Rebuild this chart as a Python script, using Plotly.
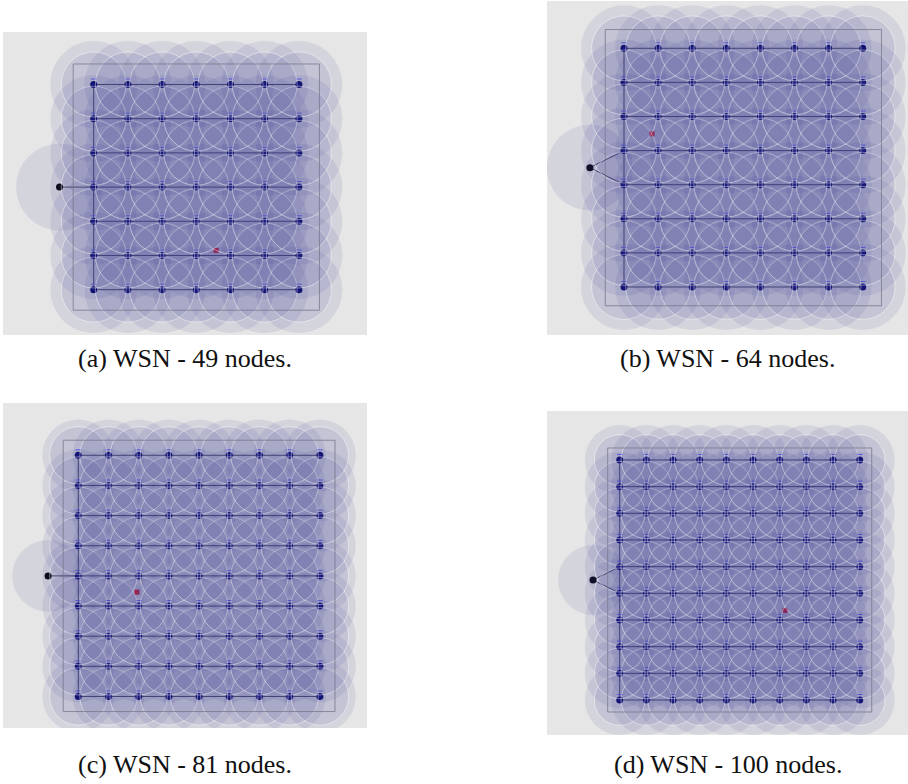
import plotly.graph_objects as go

W, H = 908, 784

# ---- data (grid units: node spacing = 1) ----
labels = ["(a) WSN - 49 nodes.", "(b) WSN - 64 nodes.", "(c) WSN - 81 nodes.", "(d) WSN - 100 nodes."]
side_counts = [7, 8, 9, 10]
sink_x = [-1.0, -1.0, -1.0, -1.0]
sink_y = [3.0, 3.5, 4.0, 4.5]
sink_links = [[3], [3, 4], [4], [4, 5]]          # rows on column 0 linked to sink
red_x = [3.58, 0.82, 1.94, 6.2]
red_y = [1.15, 4.49, 3.46, 3.36]
field_lo = [-0.6, -0.55, -0.5, -0.45]
field_hi = [6.6, 7.55, 8.5, 9.45]
range_big = [1.27, 1.26, 1.19, 1.31]             # radio range (outer disc)
range_small = [0.95, 0.95, 0.95, 0.95]           # inner disc
x_ranges = [(-2.652, 7.991), (-2.258, 8.328), (-2.493, 9.56), (-2.726, 10.81)]
y_ranges = [(-1.325, 7.535), (-1.408, 8.387), (-1.046, 9.735), (-1.312, 10.836)]

# ---- layout (pixel boxes of the panels) ----
boxes = [(3, 32, 367, 335), (547, 1, 908, 335), (3, 403, 367, 728), (547, 411, 908, 735)]
caption_y = [358, 358, 764, 764]

fig = go.Figure()
shapes = []
annotations = []
FILL = "rgba(60,60,150,0.10)"

for p in range(4):
    n = side_counts[p]
    ax = "" if p == 0 else str(p + 1)
    xr, yr = "x" + ax, "y" + ax
    L, T, R, B = boxes[p]
    fig.update_layout(**{
        ("xaxis" + ax): dict(domain=[L / W, R / W], range=list(x_ranges[p]), visible=False,
                              anchor=yr, fixedrange=True),
        ("yaxis" + ax): dict(domain=[1 - B / H, 1 - T / H], range=list(y_ranges[p]), visible=False,
                              anchor=xr, fixedrange=True),
    })
    # background
    shapes.append(dict(type="rect", xref=xr + " domain", yref=yr + " domain", x0=0, x1=1, y0=0, y1=1,
                       fillcolor="#e6e6e6", line=dict(width=0), layer="below"))
    nx = [i for j in range(n) for i in range(n)]
    ny = [j for j in range(n) for i in range(n)]
    # sink range
    Rb = range_big[p]
    shapes.append(dict(type="circle", xref=xr, yref=yr, x0=sink_x[p] - Rb, x1=sink_x[p] + Rb,
                       y0=sink_y[p] - Rb, y1=sink_y[p] + Rb, fillcolor=FILL, line=dict(width=0)))
    for cx, cy in zip(nx, ny):
        shapes.append(dict(type="circle", xref=xr, yref=yr, x0=cx - Rb, x1=cx + Rb,
                           y0=cy - Rb, y1=cy + Rb, fillcolor=FILL, line=dict(width=0)))
    Rs = range_small[p]
    for cx, cy in zip(nx, ny):
        shapes.append(dict(type="circle", xref=xr, yref=yr, x0=cx - Rs, x1=cx + Rs,
                           y0=cy - Rs, y1=cy + Rs, fillcolor=FILL,
                           line=dict(width=0.8, color="rgba(255,255,255,0.55)")))
    # field rectangle
    shapes.append(dict(type="rect", xref=xr, yref=yr, x0=field_lo[p], x1=field_hi[p],
                       y0=field_lo[p], y1=field_hi[p], line=dict(width=1, color="rgba(120,120,140,0.8)"),
                       fillcolor="rgba(0,0,0,0)"))
    # routing lines
    lx, ly = [], []
    for j in range(n):
        lx += [0, n - 1, None]
        ly += [j, j, None]
    lx += [0, 0, None]
    ly += [0, n - 1, None]
    for r in sink_links[p]:
        lx += [sink_x[p], 0, None]
        ly += [sink_y[p], r, None]
    fig.add_trace(go.Scatter(x=lx, y=ly, mode="lines", line=dict(color="rgba(50,50,70,0.85)", width=1),
                             xaxis=xr, yaxis=yr, hoverinfo="skip", showlegend=False))
    # small blue id marks above nodes
    px_per_unit = (R - L) / (x_ranges[p][1] - x_ranges[p][0])
    off = 5.5 / px_per_unit
    fig.add_trace(go.Scatter(x=nx, y=[v + off for v in ny], mode="markers",
                             marker=dict(symbol="line-ew", size=4, line=dict(color="#6a6aff", width=1)),
                             xaxis=xr, yaxis=yr, hoverinfo="skip", showlegend=False))
    # nodes
    fig.add_trace(go.Scatter(x=nx, y=ny, mode="markers",
                             marker=dict(color="#000066", size=7, line=dict(width=0)),
                             xaxis=xr, yaxis=yr, showlegend=False))
    # sink
    fig.add_trace(go.Scatter(x=[sink_x[p]], y=[sink_y[p]], mode="markers",
                             marker=dict(color="#000000", size=7, line=dict(width=0)),
                             xaxis=xr, yaxis=yr, showlegend=False))
    # red point
    fig.add_trace(go.Scatter(x=[red_x[p]], y=[red_y[p]], mode="markers",
                             marker=dict(color="#ff1010", size=5, symbol="square", line=dict(width=0)),
                             xaxis=xr, yaxis=yr, showlegend=False))
    annotations.append(dict(text=labels[p], xref="paper", yref="paper", x=(L + R) / 2 / W,
                            y=1 - caption_y[p] / H, showarrow=False, xanchor="center", yanchor="middle",
                            font=dict(family="Liberation Serif", size=26, color="#111111")))

fig.update_layout(width=W, height=H, margin=dict(l=0, r=0, t=0, b=0),
                  paper_bgcolor="white", plot_bgcolor="rgba(0,0,0,0)",
                  shapes=shapes, annotations=annotations, showlegend=False)
fig.write_html("out.html", config={"displayModeBar": False},
               post_script="document.body.style.margin='0px';document.body.style.overflow='hidden';")
